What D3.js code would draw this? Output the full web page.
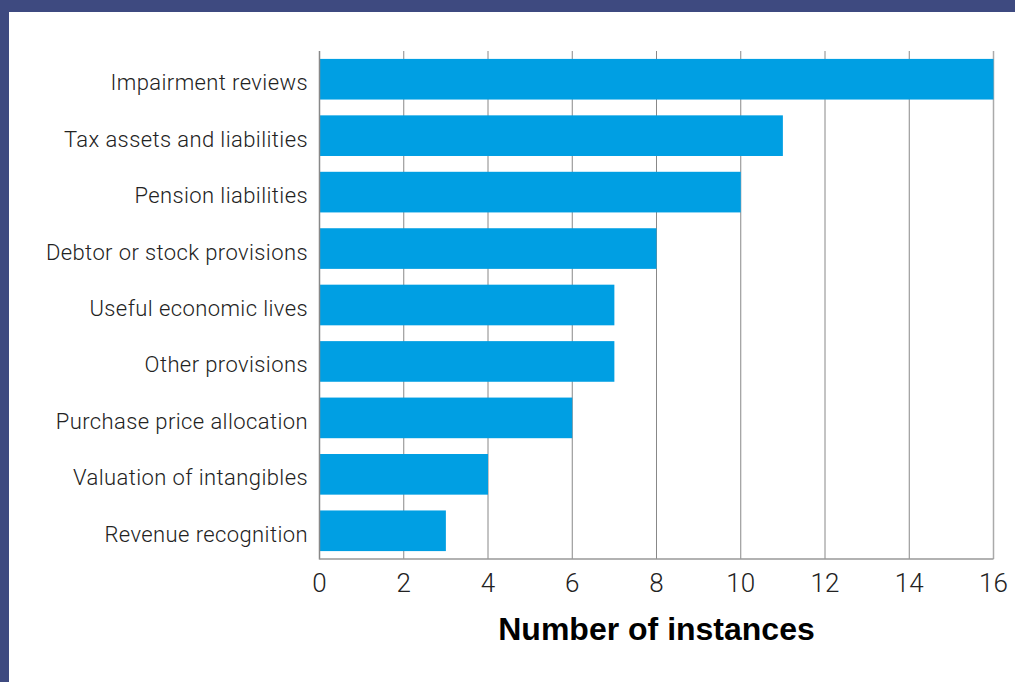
<!DOCTYPE html>
<html>
<head>
  <script src="https://d3js.org/d3.v7.min.js"></script>
  <style>
    body {
  margin: 0;
  background-color: #3e4a80;
}

svg {
  display: block;
}

.cat-label {
  font-family: 'Roboto', sans-serif;
  font-weight: 300;
  font-size: 22px;
  letter-spacing: 0.4px;
  fill: #222;
}

.tick-label {
  font-family: 'Roboto', sans-serif;
  font-weight: 300;
  font-size: 26px;
  fill: #222;
}

.axis-title {
  font-family: 'Liberation Sans', Arial, sans-serif;
  font-weight: bold;
  font-size: 32px;
  fill: #000;
}
  </style>
</head>
<body>

<script>
// Chart values
const categories = [
  "Impairment reviews",
  "Tax assets and liabilities",
  "Pension liabilities",
  "Debtor or stock provisions",
  "Useful economic lives",
  "Other provisions",
  "Purchase price allocation",
  "Valuation of intangibles",
  "Revenue recognition"
];
const values = [16, 11, 10, 8, 7, 7, 6, 4, 3];
const xTicks = [0, 2, 4, 6, 8, 10, 12, 14, 16];
const xTitle = "Number of instances";

const width = 1015;
const height = 682;

const svg = d3.select("body")
  .append("svg")
  .attr("width", width)
  .attr("height", height);

// white panel inside the dark frame
svg.append("rect")
  .attr("x", 9)
  .attr("y", 12)
  .attr("width", width - 9)
  .attr("height", height - 12)
  .attr("fill", "#ffffff");

const x = d3.scaleLinear()
  .domain([0, 16])
  .range([319.5, 993.5]);

const y = d3.scaleBand()
  .domain(categories)
  .range([51, 559])
  .paddingInner(0.28)
  .paddingOuter(0.14);

// vertical grid lines
svg.selectAll(".grid")
  .data(xTicks)
  .enter()
  .append("line")
  .attr("x1", d => x(d))
  .attr("x2", d => x(d))
  .attr("y1", 51)
  .attr("y2", 559)
  .attr("stroke", d => d === 16 ? "#aaaaaa" : "#888888")
  .attr("stroke-width", d => d === 16 ? 1.5 : 1);

// bars
svg.selectAll(".bar")
  .data(categories)
  .enter()
  .append("rect")
  .attr("x", x(0))
  .attr("y", d => y(d))
  .attr("width", (d, i) => x(values[i]) - x(0))
  .attr("height", y.bandwidth())
  .attr("fill", "#009fe3");

// left and bottom axis lines
svg.append("line")
  .attr("x1", x(0)).attr("x2", x(0))
  .attr("y1", 51).attr("y2", 559.5)
  .attr("stroke", "#888888")
  .attr("stroke-width", 1.5);

svg.append("line")
  .attr("x1", x(0)).attr("x2", x(16))
  .attr("y1", 559).attr("y2", 559)
  .attr("stroke", "#999999")
  .attr("stroke-width", 1.5);

// category labels
svg.selectAll(".cat-label")
  .data(categories)
  .enter()
  .append("text")
  .attr("class", "cat-label")
  .attr("x", 308)
  .attr("y", d => y(d) + y.bandwidth() / 2 + 11)
  .attr("text-anchor", "end")
  .text(d => d);

// tick labels
svg.selectAll(".tick-label")
  .data(xTicks)
  .enter()
  .append("text")
  .attr("class", "tick-label")
  .attr("x", d => x(d))
  .attr("y", 592)
  .attr("text-anchor", "middle")
  .text(d => d);

// axis title
svg.append("text")
  .attr("class", "axis-title")
  .attr("x", (x(0) + x(16)) / 2)
  .attr("y", 640)
  .attr("text-anchor", "middle")
  .text(xTitle);
</script>
</body>
</html>
